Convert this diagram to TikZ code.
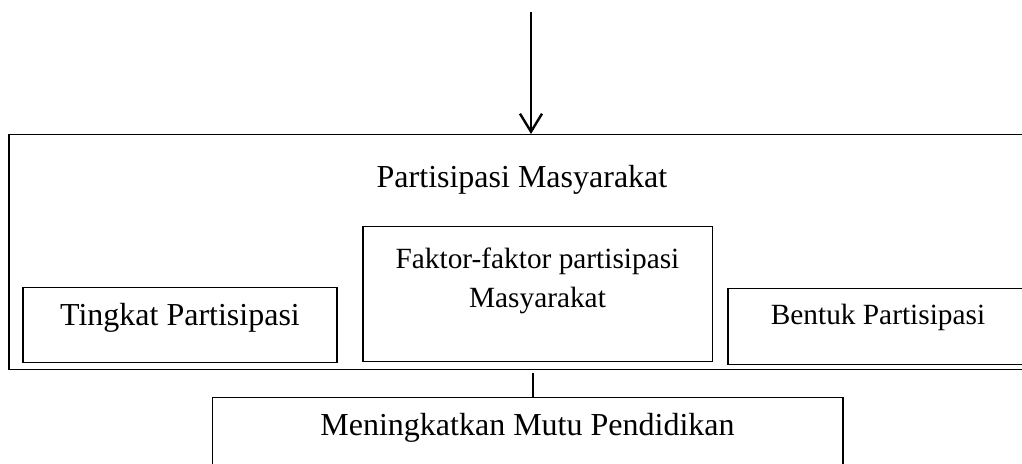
\documentclass[tikz,border=0pt]{standalone}
\usepackage{fontspec}
\setmainfont{Liberation Serif}
\usetikzlibrary{arrows.meta}

\tikzset{
  box/.style={draw, line width=0.4pt, inner sep=0pt, align=center,
    font=\fontsize{12}{14.8}\selectfont},
  smallbox/.style={box, font=\fontsize{11}{14.8}\selectfont},
  arr/.style={line width=0.9pt, -{Straight Barb[length=6.75pt, width=8.25pt]}},
  link/.style={line width=0.9pt}
}

\begin{document}
\begin{tikzpicture}[x=0.375pt, y=-0.375pt]
      % page and cut-off edges
      \useasboundingbox (0,0) rectangle (1022,464);
      \clip (0,0) rectangle (1022,464);

      % Draw the big box with its three parts
      \node[box, anchor=north, minimum width=384.75pt,
            text height=19.9pt, text depth=68.25pt] (masy) at (522,134) {Partisipasi Masyarakat};
      \node[box, anchor=north, minimum width=117.75pt,
            text height=14.25pt, text depth=13.9pt] (tingkat) at (180,287) {Tingkat Partisipasi};
      \node[smallbox, anchor=north, minimum width=130.9pt,
            text height=30.4pt, text depth=20.25pt] (faktor) at (537.5,226) {Faktor-faktor partisipasi\\Masyarakat};
      \node[smallbox, anchor=north, minimum width=112.5pt,
            text height=13.5pt, text depth=15pt] (bentuk) at (878,288) {Bentuk Partisipasi};

      % Draw the goal
      \node[box, anchor=north, minimum width=236.6pt,
            text height=14.25pt, text depth=30pt] (mutu) at (527.5,397) {Meningkatkan Mutu Pendidikan};

      % Add the connectors
      \coordinate (src) at (531,12);
      \draw[arr] (src) -- (src |- masy.north);
      \coordinate (lnk) at (533,373);
      \draw[link] (lnk) -- (lnk |- mutu.north);
    \end{tikzpicture}
\end{document}
